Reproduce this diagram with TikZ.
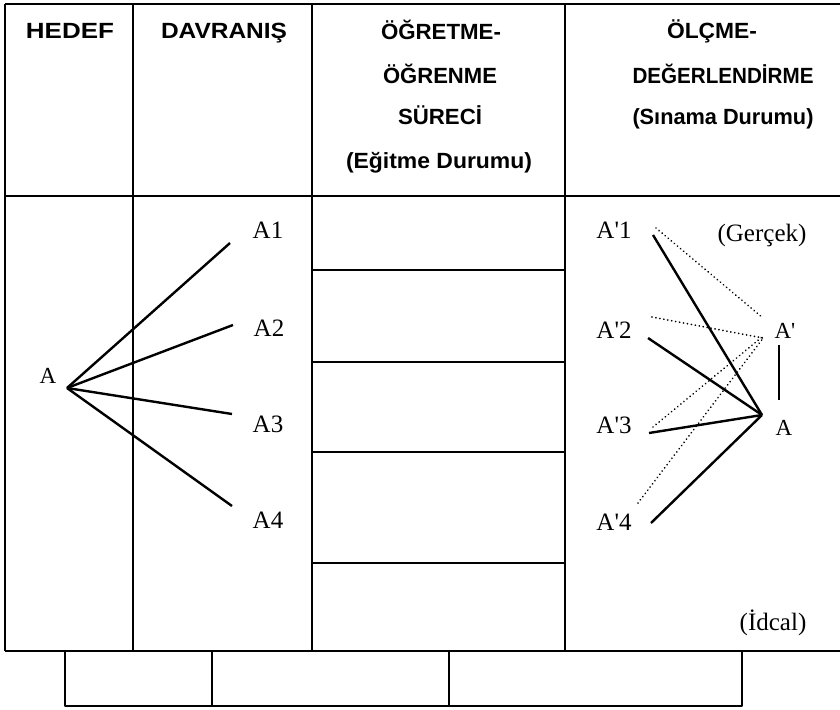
\documentclass[tikz,border=0pt]{standalone}
\usepackage{fontspec}
\setmainfont{Liberation Serif}[Ligatures=TeXOff]
\newfontfamily\hdrfont{Liberation Sans}
\newcommand\hdtxt[2]{\resizebox{#1pt}{\height}{\hdrfont\bfseries\fontsize{22}{24}\selectfont #2}}
\begin{document}
\begin{tikzpicture}[x=1pt,y=-1pt,line join=round,
  toprule/.style={line width=2.4pt},
  hrule/.style={line width=1.6pt},
  vrule/.style={line width=1.1pt},
  fan/.style={line width=2.4pt},
  dots/.style={line width=1.9pt,dash pattern=on 0.01pt off 4pt,line cap=round},
  hd/.style={inner sep=0pt,anchor=base},
  lbl/.style={inner sep=0pt,anchor=base,font=\fontsize{25}{30}\selectfont},
  slbl/.style={inner sep=0pt,anchor=base,font=\fontsize{23}{28}\selectfont}]
\useasboundingbox (0,0) rectangle (840,709);
% ---- table frame
\draw[toprule] (5,4) -- (840,4);
\draw[hrule] (5,196) -- (840,196);
\draw[hrule] (5,651) -- (840,651);
\draw[vrule] (5,4) -- (5,651);
\foreach \x in {133,312,565} \draw[vrule] (\x,4) -- (\x,651);
\foreach \y in {270,362,452,563} \draw[hrule] (312,\y) -- (565,\y);
% ---- bottom boxes
\draw[hrule] (65,651) -- (65,706) -- (742,706) -- (742,651);
\draw[hrule] (212,651) -- (212,706);
\draw[hrule] (449,651) -- (449,706);
% ---- headers
\node[hd] (hedef) at (70,38) {\hdtxt{88}{HEDEF}};
\node[hd] (davr) at (224,38) {\hdtxt{126}{DAVRANIŞ}};
\node[hd] (og1) at (441,40) {\hdtxt{120}{ÖĞRETME-}};
\node[hd] (og2) at (440,83) {\hdtxt{114}{ÖĞRENME}};
\node[hd] (og3) at (440,124) {\hdtxt{84}{SÜRECİ}};
\node[hd] (og4) at (439,168) {\hdtxt{186}{(Eğitme Durumu)}};
\node[hd] (ol1) at (712,38) {\hdtxt{90}{ÖLÇME-}};
\node[hd] (ol2) at (723,83) {\hdtxt{181}{DEĞERLENDİRME}};
\node[hd] (ol3) at (723,124) {\hdtxt{181}{(Sınama Durumu)}};
% ---- left fan
\node[slbl] (a) at (48,383) {A};
\node[lbl] (a1) at (268,238) {A1};
\node[lbl] (a2) at (269,336) {A2};
\node[lbl] (a3) at (268,432) {A3};
\node[lbl] (a4) at (268,528) {A4};
\coordinate (o) at (67,388);
\coordinate (e1) at (230,243);
\coordinate (e2) at (233,325);
\coordinate (e3) at (232,414);
\coordinate (e4) at (232,506);
\foreach \e in {e1,e2,e3,e4} \draw[fan] (o) -- (\e);
% ---- right side
\node[lbl] (b1) at (614,238) {A'1};
\node[lbl] (b2) at (614,338) {A'2};
\node[lbl] (b3) at (614,433) {A'3};
\node[lbl] (b4) at (614,530) {A'4};
\node[slbl] (ap) at (785,338) {A'};
\node[slbl] (ar) at (784,435) {A};
\node[lbl] (ger) at (762,241) {(Gerçek)};
\node[lbl] (ide) at (773,630) {(İdcal)};
\coordinate (p) at (762,415);
\coordinate (s1) at (653,235);
\coordinate (s2) at (648,338);
\coordinate (s3) at (649,433);
\coordinate (s4) at (651,523);
\foreach \s in {s1,s2,s3,s4} \draw[fan] (\s) -- (p);
\coordinate (d1) at (656,228);
\coordinate (d2) at (652,317);
\coordinate (d3) at (653,427);
\coordinate (d4) at (638,503);
\coordinate (q1) at (763,318);
\coordinate (q2) at (763,338);
\coordinate (q3) at (762,337);
\coordinate (q4) at (764,337);
\draw[dots] (d1) -- (q1);
\draw[dots] (d2) -- (q2);
\draw[dots] (d3) -- (q3);
\draw[dots] (d4) -- (q4);
\coordinate (v1) at (779,345);
\coordinate (v2) at (779,400);
\draw[fan] (v1) -- (v2);
\end{tikzpicture}
\end{document}
